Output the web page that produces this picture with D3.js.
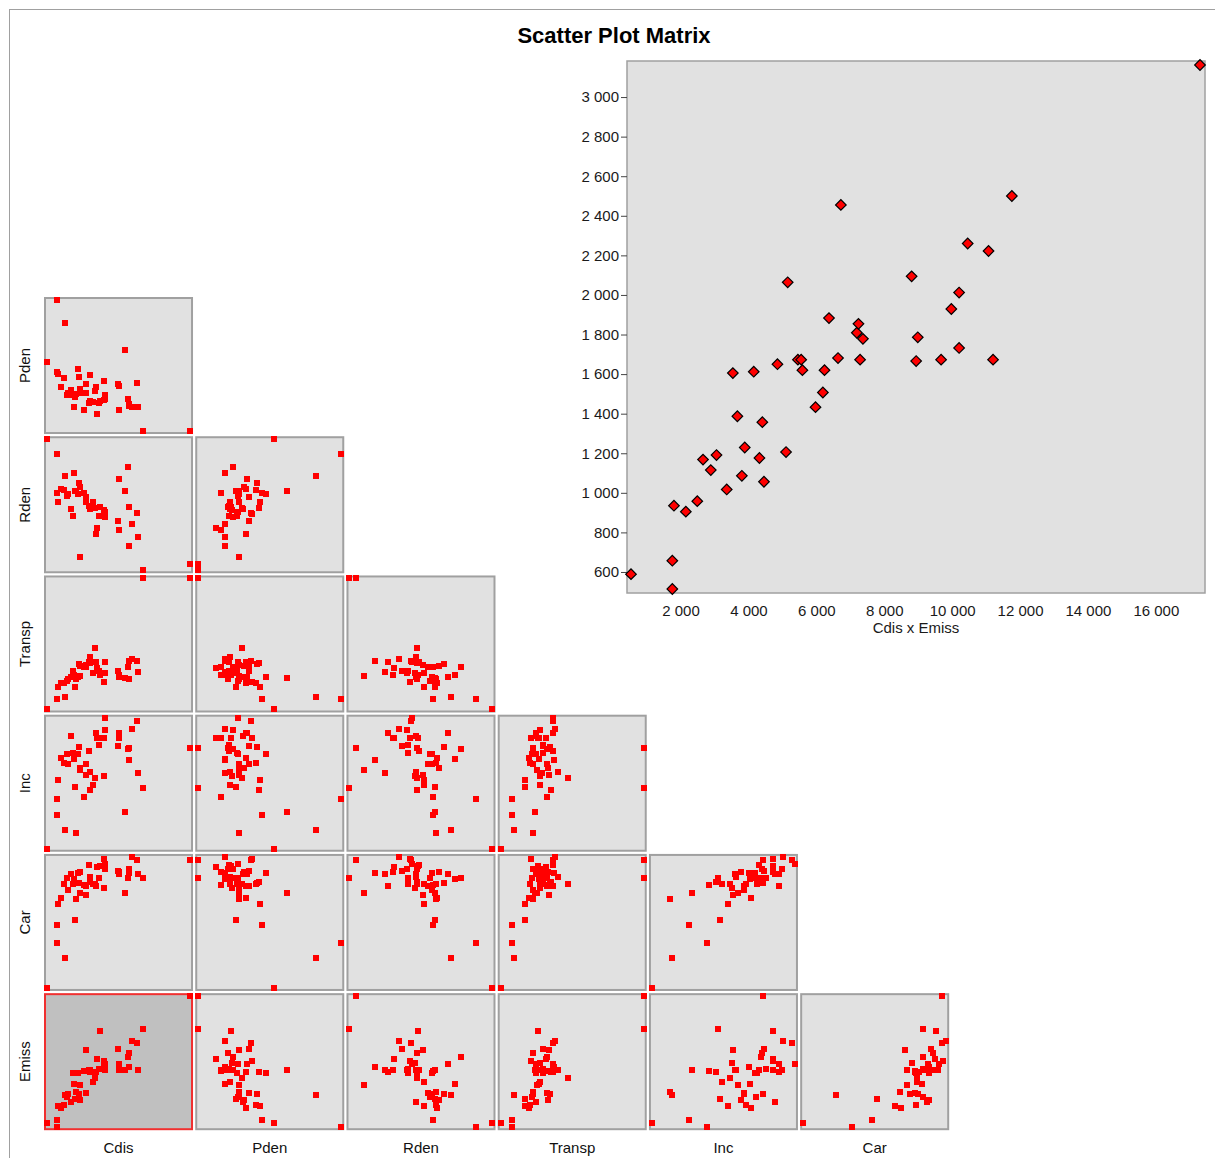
<!DOCTYPE html>
<html>
<head>
<meta charset="utf-8">
<script src="https://cdn.jsdelivr.net/npm/d3@7"></script>
<style>
body { margin: 0; background: #fff; }
text { font-family: Arial, "Liberation Sans", sans-serif; }
</style>
</head>
<body>
<div id="chart"></div>
<script>
// variable names, in matrix order
var varNames = ["Cdis", "Pden", "Rden", "Transp", "Inc", "Car", "Emiss"];

// one value per city
var cdis = [542, 1759, 1759, 1807, 2157, 2494, 2663, 2892, 3060, 3361, 3542, 3675, 3807, 3892, 4157, 4325,
    4410, 4458, 4855, 5108, 5157, 5458, 5554, 5590, 5976, 6193, 6241, 6373, 6639, 6723, 7193, 7241, 7289,
    7373, 8807, 8940, 8988, 9675, 9976, 10205, 10205, 10458, 11072, 11205, 11759, 17300];
var emiss = [589, 657, 514, 935, 905, 958, 1168, 1115, 1191, 1017, 1605, 1387, 1086, 1229, 1612, 1176,
    1357, 1056, 1650, 1206, 2064, 1673, 1673, 1620, 1433, 1507, 1620, 1883, 1681, 2455, 1809, 1854, 1673,
    1778, 2094, 1666, 1786, 1673, 1929, 2012, 1732, 2260, 2222, 1673, 2500, 3162];
var pden = [217, 186, 400, 180, 141, 168, 333, 120, 124, 133, 118, 84, 114, 122, 196, 173, 124, 136, 74,
    150, 124, 96, 100, 177, 98, 132, 142, 61, 95, 102, 104, 159, 108, 120, 151, 74, 146, 253, 107, 93, 85,
    84, 155, 84, 12, 12];
var rden = [4.43, 2.82, 3.98, 2.55, 2.92, 2.90, 3.31, 2.73, 2.78, 2.33, 2.11, 3.40, 2.86, 2.88, 2.78, 3.10,
    0.90, 2.98, 2.82, 2.68, 2.53, 2.42, 2.33, 2.36, 2.55, 2.36, 1.58, 1.75, 2.12, 2.40, 2.30, 2.18, 2.08,
    2.23, 1.96, 1.70, 3.23, 2.86, 3.58, 2.38, 1.21, 1.88, 2.20, 1.48, 0.50, 0.68];
var transp = [4.2, 10.4, 10.4, 17.6, 19.6, 20.0, 11.2, 21.2, 22.0, 23.2, 27.2, 24.8, 17.6, 22.0, 23.2, 31.2,
    24.0, 30.0, 29.2, 29.6, 30.6, 32.6, 35.6, 31.6, 25.6, 40.8, 32.6, 28.6, 27.2, 24.6, 25.6, 20.4, 25.6,
    32.6, 27.2, 24.8, 23.6, 22.8, 29.2, 22.0, 33.2, 34.0, 32.8, 26.6, 82.6, 82.6];
var inc = [9000, 19200, 24000, 29800, 36200, 34800, 14600, 37400, 34300, 42800, 37800, 35800, 27700, 13800,
    37300, 39500, 32600, 33300, 24500, 34300, 31200, 38300, 32000, 26600, 28200, 30300, 43800, 42300, 40200,
    42300, 30800, 42300, 44600, 48200, 39800, 42300, 43800, 20000, 38900, 39200, 35700, 45000, 47300, 31700,
    27200, 39300];
var car = [125, 312, 258, 375, 392, 432, 214, 450, 415, 462, 432, 448, 326, 388, 466, 436, 406, 468, 430,
    428, 401, 490, 454, 440, 433, 433, 428, 482, 450, 486, 420, 506, 478, 493, 472, 468, 463, 406, 450, 478,
    466, 513, 503, 464, 450, 503];

var series = [cdis, pden, rden, transp, inc, car, emiss];
var rows = d3.range(cdis.length).map(function(i) {
    var o = {};
    varNames.forEach(function(v, k) { o[v] = series[k][i]; });
    return o;
});

var width = 1215, height = 1158;

var fmt = d3.formatLocale({decimal: ".", thousands: "\u00a0", grouping: [3], currency: ["", ""]}).format(",d");

var svg = d3.select('#chart').append('svg')
    .attr('width', width)
    .attr('height', height);

// outer frame (only top and left edges fall inside the window)
svg.append('rect')
    .attr('x', 9.5).attr('y', 9.5)
    .attr('width', 1300).attr('height', 1300)
    .attr('fill', 'none')
    .attr('stroke', '#a0a0a0');

svg.append('text')
    .attr('x', 614).attr('y', 43)
    .attr('text-anchor', 'middle')
    .style('font-size', '22px')
    .style('font-weight', 'bold')
    .attr('fill', '#000')
    .text('Scatter Plot Matrix');

// matrix layout
var colVars = varNames.slice(0, 6),
    rowVars = varNames.slice(1);

var colBand = d3.scaleBand().domain(colVars).range([44, 949.2]).paddingInner(0.0146);
var rowBand = d3.scaleBand().domain(rowVars).range([297, 1130.2]).paddingInner(0.0158);
var bw = colBand.bandwidth(), bh = rowBand.bandwidth();

var xs = {}, ys = {};
varNames.forEach(function(v) {
    var ext = d3.extent(rows, function(d) { return d[v]; });
    xs[v] = d3.scaleLinear().domain(ext).range([3, bw - 3]);
    ys[v] = d3.scaleLinear().domain(ext).range([bh - 3, 3]);
});

var cells = [];
rowVars.forEach(function(rv, i) {
    colVars.slice(0, i + 1).forEach(function(cv) {
        cells.push({x: cv, y: rv});
    });
});

var cellG = svg.append('g').selectAll('g')
    .data(cells)
    .enter().append('g')
    .attr('transform', function(d) { return 'translate(' + colBand(d.x) + ',' + rowBand(d.y) + ')'; });

cellG.append('rect')
    .attr('x', 1).attr('y', 1)
    .attr('width', bw - 2).attr('height', bh - 2)
    .attr('fill', function(d) { return d.x === 'Cdis' && d.y === 'Emiss' ? '#c0c0c0' : '#e1e1e1'; })
    .attr('stroke', function(d) { return d.x === 'Cdis' && d.y === 'Emiss' ? '#f03030' : '#a0a0a0'; })
    .attr('stroke-width', 2);

// points on top of every cell background
var pointG = svg.append('g').selectAll('g')
    .data(cells)
    .enter().append('g')
    .attr('transform', function(d) { return 'translate(' + colBand(d.x) + ',' + rowBand(d.y) + ')'; });

pointG.each(function(c) {
    d3.select(this).selectAll('rect')
        .data(rows)
        .enter().append('rect')
        .attr('x', function(d) { return Math.round(xs[c.x](d[c.x]) - 3); })
        .attr('y', function(d) { return Math.round(ys[c.y](d[c.y]) - 3); })
        .attr('width', 6).attr('height', 6)
        .attr('fill', '#ff0000')
        .attr('shape-rendering', 'crispEdges');
});

// row labels
svg.append('g').selectAll('text')
    .data(rowVars)
    .enter().append('text')
    .attr('transform', function(d) { return 'translate(25,' + (rowBand(d) + bh / 2) + ')rotate(-90)'; })
    .attr('dy', '0.35em')
    .attr('text-anchor', 'middle')
    .style('font-size', '15px')
    .attr('fill', '#111')
    .text(function(d) { return d; });

// column labels
svg.append('g').selectAll('text')
    .data(colVars)
    .enter().append('text')
    .attr('x', function(d) { return colBand(d) + bw / 2; })
    .attr('y', 1148)
    .attr('dy', '0.35em')
    .attr('text-anchor', 'middle')
    .style('font-size', '15px')
    .attr('fill', '#111')
    .text(function(d) { return d; });

// enlarged view of the selected cell
var big = {left: 627, top: 61, right: 1205, bottom: 593};

var bx = d3.scaleLinear().domain(d3.extent(cdis)).range([big.left + 4, big.right - 5]);
var by = d3.scaleLinear().domain(d3.extent(emiss)).range([big.bottom - 4, big.top + 4]);

svg.append('rect')
    .attr('x', big.left).attr('y', big.top)
    .attr('width', big.right - big.left).attr('height', big.bottom - big.top)
    .attr('fill', '#e1e1e1')
    .attr('stroke', '#a0a0a0')
    .attr('stroke-width', 1.5);

var yAxis = svg.append('g')
    .attr('transform', 'translate(' + big.left + ',0)')
    .call(d3.axisLeft(by).ticks(14).tickFormat(fmt).tickSize(6).tickSizeOuter(0).tickPadding(2));
yAxis.select('.domain').remove();
yAxis.selectAll('line').attr('stroke', '#444');
yAxis.selectAll('text').style('font-size', '15px').attr('fill', '#1a1a1a');

var xAxis = svg.append('g')
    .attr('transform', 'translate(0,' + big.bottom + ')')
    .call(d3.axisBottom(bx).ticks(8).tickFormat(fmt).tickSize(0).tickPadding(12));
xAxis.select('.domain').remove();
xAxis.selectAll('text').style('font-size', '15px').attr('fill', '#1a1a1a');

svg.append('text')
    .attr('x', (big.left + big.right) / 2)
    .attr('y', 633)
    .attr('text-anchor', 'middle')
    .style('font-size', '15px')
    .attr('fill', '#1a1a1a')
    .text('Cdis x Emiss');

svg.append('g').selectAll('path')
    .data(rows)
    .enter().append('path')
    .attr('transform', function(d) { return 'translate(' + bx(d.Cdis) + ',' + by(d.Emiss) + ')rotate(45)'; })
    .attr('d', d3.symbol(d3.symbolSquare, 56))
    .attr('fill', '#ff0000')
    .attr('stroke', '#000')
    .attr('stroke-width', 1.2);
</script>
</body>
</html>
